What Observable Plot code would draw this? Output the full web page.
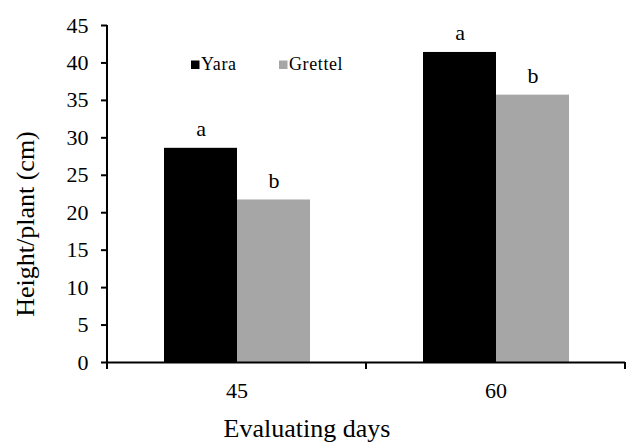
<!DOCTYPE html>
<html><head><meta charset="utf-8">
<script src="https://cdn.jsdelivr.net/npm/d3@7"></script>
<script src="https://cdn.jsdelivr.net/npm/@observablehq/plot@0.6"></script>
<style>body{margin:0;background:#fff} svg{display:block} svg text{font-family:'Liberation Serif','Times New Roman',serif !important;}</style>
</head><body><div id="chart"></div>
<script>
const days = ["45", "60"];
const varieties = ["Yara", "Grettel"];
const yaraHeight = [28.6, 41.4];
const grettelHeight = [21.7, 35.7];
const yaraLetters = ["a", "a"];
const grettelLetters = ["b", "b"];
const yTicks = [0, 5, 10, 15, 20, 25, 30, 35, 40, 45];
const colors = ["#000000", "#a6a6a6"];
const xTitle = "Evaluating days";
const yTitle = "Height/plant (cm)";

const rows = days.flatMap((d, i) => [
  {day: d, variety: varieties[0], value: yaraHeight[i], letter: yaraLetters[i]},
  {day: d, variety: varieties[1], value: grettelHeight[i], letter: grettelLetters[i]}
]);

const font = "'Liberation Serif','Times New Roman',serif";
const plot = Plot.plot({
  width: 626, height: 442,
  marginLeft: 106, marginRight: 1, marginTop: 25, marginBottom: 80,
  style: {fontFamily: font, fontSize: "22px", color: "#000", background: "#fff", overflow: "visible"},
  fx: {domain: days, padding: 0, label: null},
  x: {domain: varieties, paddingInner: 0, paddingOuter: 0.76, axis: null},
  y: {domain: [0, 45], label: null},
  color: {domain: varieties, range: colors},
  marks: [
    Plot.barY(rows, {fx: "day", x: "variety", y: "value", fill: "variety"}),
    Plot.text(rows, {fx: "day", x: "variety", y: "value", text: "letter", dy: -12, lineAnchor: "bottom", fontSize: 22, fontFamily: font, fill: "#000"}),
    Plot.axisY({ticks: yTicks, tickSize: 6, tickPadding: 13, tickFormat: d => String(d), label: null, fontSize: 22, fontFamily: font, strokeWidth: 2}),
    Plot.axisFx({anchor: "bottom", tickSize: 0, tickPadding: 20, label: null, fontSize: 22, fontFamily: font}),
    Plot.ruleY([0], {strokeWidth: 2, stroke: "#000"})
  ]
});
document.getElementById("chart").appendChild(plot);

const svg = d3.select(plot);
const fx = plot.scale("fx");
const y = plot.scale("y");
const y0 = y.apply(0), yTop = y.apply(45);
const left = fx.apply(days[0]);
const edges = days.map(d => fx.apply(d)).concat([fx.apply(days[days.length - 1]) + fx.bandwidth]);

// y axis line
svg.append("line").attr("x1", left).attr("x2", left).attr("y1", yTop).attr("y2", y0 + 1)
  .attr("stroke", "#000").attr("stroke-width", 2);
// category boundary ticks
svg.selectAll("line.edge").data(edges).join("line").attr("class", "edge")
  .attr("x1", d => Math.min(d, 625)).attr("x2", d => Math.min(d, 625))
  .attr("y1", y0).attr("y2", y0 + 7).attr("stroke", "#000").attr("stroke-width", 2);

// axis titles
svg.append("text").attr("x", 307).attr("y", 437).attr("text-anchor", "middle")
  .attr("font-size", 26).attr("fill", "#000").text(xTitle);
svg.append("text").attr("transform", "translate(34,224) rotate(-90)").attr("text-anchor", "middle")
  .attr("font-size", 26).attr("fill", "#000").text(yTitle);

// legend
const lg = svg.append("g").attr("font-size", 18).attr("text-anchor", "start");
varieties.forEach((v, i) => {
  const gx = 191 + i * 88;
  lg.append("rect").attr("x", gx).attr("y", 60.5).attr("width", 8.5).attr("height", 8.5).attr("fill", colors[i]);
  lg.append("text").attr("x", gx + 10).attr("y", 69.5).attr("text-anchor", "start")
    .attr("letter-spacing", 0.6).attr("fill", "#000").text(v);
});
</script></body></html>
